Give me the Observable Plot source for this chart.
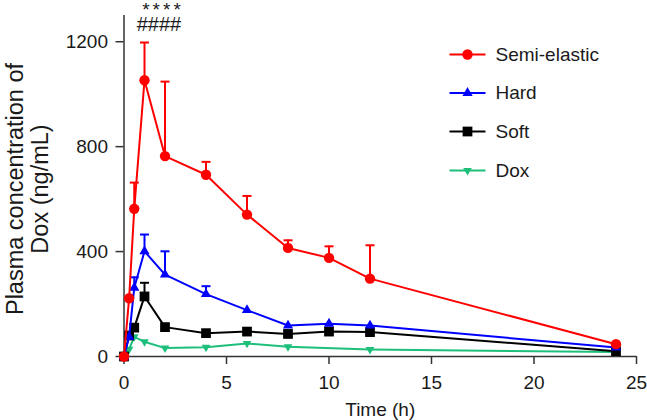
<!DOCTYPE html>
<html><head><meta charset="utf-8">
<script src="https://cdn.jsdelivr.net/npm/d3@7"></script>
<script src="https://cdn.jsdelivr.net/npm/@observablehq/plot@0.6"></script>
<style>html,body{margin:0;padding:0;background:#fff;} svg{display:block;}</style>
</head><body><div id="chart"></div>
<script>
// ---- data ----
const times = [0, 0.25, 0.5, 1, 2, 4, 6, 8, 10, 12, 24];
const doxTimes = [0, 0.25, 0.5, 1, 2, 4, 6, 8, 12, 24];

const semiElastic   = [0, 222, 563, 1053, 764, 693, 541, 414, 376, 297, 47];
const semiElasticSD = [0, 0, 100, 144, 284, 49, 71, 29, 44, 127, 0];
const hard          = [0, 75, 262, 401, 312, 238, 177, 118, 125, 118, 34];
const hardSD        = [0, 0, 40, 64, 89, 30, 0, 0, 0, 0, 0];
const soft          = [0, 80, 110, 229, 112, 89, 95, 86, 95, 93, 20];
const softSD        = [0, 0, 0, 52, 0, 0, 0, 0, 0, 0, 0];
const dox           = [0, 28, 75, 56, 32, 35, 50, 37, 27, 17];
const doxSD         = [0, 0, 0, 0, 0, 0, 0, 0, 0, 0];

const seriesNames  = ["Semi-elastic", "Hard", "Soft", "Dox"];
const seriesColors = ["#ff0000", "#0000ff", "#000000", "#1dbf7b"];
const xTicks = [0, 5, 10, 15, 20, 25];
const yTicks = [0, 400, 800, 1200];
const xLabel = "Time (h)";
const yLabelLines = ["Plasma concentration of", "Dox (ng/mL)"];
const significance = ["****", "####"];

// ---- build tables ----
const mk = (ts, m, sd) => ts.map((t, i) => ({t, mean: m[i], sd: sd[i]}));
const series = [
  {name: seriesNames[0], color: seriesColors[0], rows: mk(times, semiElastic, semiElasticSD), symbol: "circle", r: 5.2, rotate: 0},
  {name: seriesNames[1], color: seriesColors[1], rows: mk(times, hard, hardSD), symbol: "triangle", r: 3.8, rotate: 0},
  {name: seriesNames[2], color: seriesColors[2], rows: mk(times, soft, softSD), symbol: "square", r: 5.5, rotate: 0},
  {name: seriesNames[3], color: seriesColors[3], rows: mk(doxTimes, dox, doxSD), symbol: "triangle", r: 3.2, rotate: 180}
];

const capSymbol = {draw(ctx) { ctx.moveTo(-4.5, 0); ctx.lineTo(4.5, 0); }};

const W = 647, H = 420, mL = 123.5, mR = 11, mT = 15, mB = 64;
const xMax = 25, yMax = 1300;
const font = "'Liberation Sans', Arial, Helvetica, sans-serif";
const pxToX = px => (px - mL) / (W - mL - mR) * xMax;
const pxToY = py => (H - mB - py) / (H - mB - mT) * yMax;

const legendRows = series.map((s, i) => ({...s, row: i}));
const legendYpx = [54, 92.5, 131, 170];

const dataMarks = series.slice().reverse().flatMap(s => {
  const withErr = s.rows.filter(d => d.sd > 0);
  return [
    Plot.line(s.rows, {x: "t", y: "mean", stroke: s.color, strokeWidth: 2}),
    Plot.ruleX(withErr, {x: "t", y1: "mean", y2: d => d.mean + d.sd, stroke: s.color, strokeWidth: 2}),
    Plot.dot(withErr, {x: "t", y: d => d.mean + d.sd, symbol: capSymbol, stroke: s.color, fill: "none", strokeWidth: 2, r: 4}),
    Plot.dot(s.rows, {x: "t", y: "mean", symbol: s.symbol, fill: s.color, stroke: "none", r: s.r, rotate: s.rotate})
  ];
});

const legendMarks = legendRows.flatMap(s => {
  const y = pxToY(legendYpx[s.row]);
  return [
    Plot.link([s], {x1: () => pxToX(449), x2: () => pxToX(485), y1: () => y, y2: () => y, stroke: s.color, strokeWidth: 2}),
    Plot.dot([s], {x: () => pxToX(467), y: () => y, symbol: s.symbol, fill: s.color, r: s.r, rotate: s.rotate}),
    Plot.text([s], {x: () => pxToX(495), y: () => y, text: "name", textAnchor: "start", lineAnchor: "middle", fontSize: 19, fill: "#1a1a1a"})
  ];
});

const plot = Plot.plot({
  width: W, height: H,
  marginLeft: mL, marginRight: mR, marginTop: mT, marginBottom: mB,
  style: {fontFamily: font, fontSize: "19px", color: "#1a1a1a", background: "#fff", overflow: "visible"},
  x: {domain: [0, xMax]},
  y: {domain: [0, yMax]},
  marks: [
    Plot.axisX({ticks: xTicks, tickFormat: "d", tickSize: 8, tickPadding: 11, stroke: "#333", strokeWidth: 1.5, fontSize: 19, label: null, fill: "#1a1a1a"}),
    Plot.axisY({ticks: yTicks, tickFormat: "d", tickSize: 8, tickPadding: 8, stroke: "#333", strokeWidth: 1.5, fontSize: 19, label: null, fill: "#1a1a1a"}),
    Plot.ruleY([0], {stroke: "#333", strokeWidth: 1.5}),
    Plot.ruleX([0], {stroke: "#333", strokeWidth: 1.5}),
    ...dataMarks,
    ...legendMarks,
    Plot.text([yLabelLines[0]], {frameAnchor: "left", textAnchor: "middle", rotate: -90, dx: -108.5, dy: 3, fontSize: 23.5, lineAnchor: "middle", fill: "#1a1a1a"}),
    Plot.text([yLabelLines[1]], {frameAnchor: "left", textAnchor: "middle", rotate: -90, dx: -83.5, dy: 3, fontSize: 23.5, lineAnchor: "middle", fill: "#1a1a1a"}),
    Plot.text([xLabel], {frameAnchor: "bottom", dy: 53, fontSize: 19, lineAnchor: "middle", fill: "#1a1a1a"}),
    Plot.text([significance[0]], {frameAnchor: "top-left", textAnchor: "middle", dx: 39, dy: 0, fontSize: 19, lineAnchor: "bottom", fill: "#1a1a1a"}),
    Plot.text([significance[1]], {frameAnchor: "top-left", textAnchor: "middle", dx: 35, dy: 15.5, fontSize: 20, lineAnchor: "bottom", fill: "#1a1a1a"})
  ]
});
d3.select(plot).selectAll("text").filter(function() { return this.textContent === significance[0]; }).attr("letter-spacing", 3);
document.getElementById("chart").appendChild(plot);
</script>
</body></html>
